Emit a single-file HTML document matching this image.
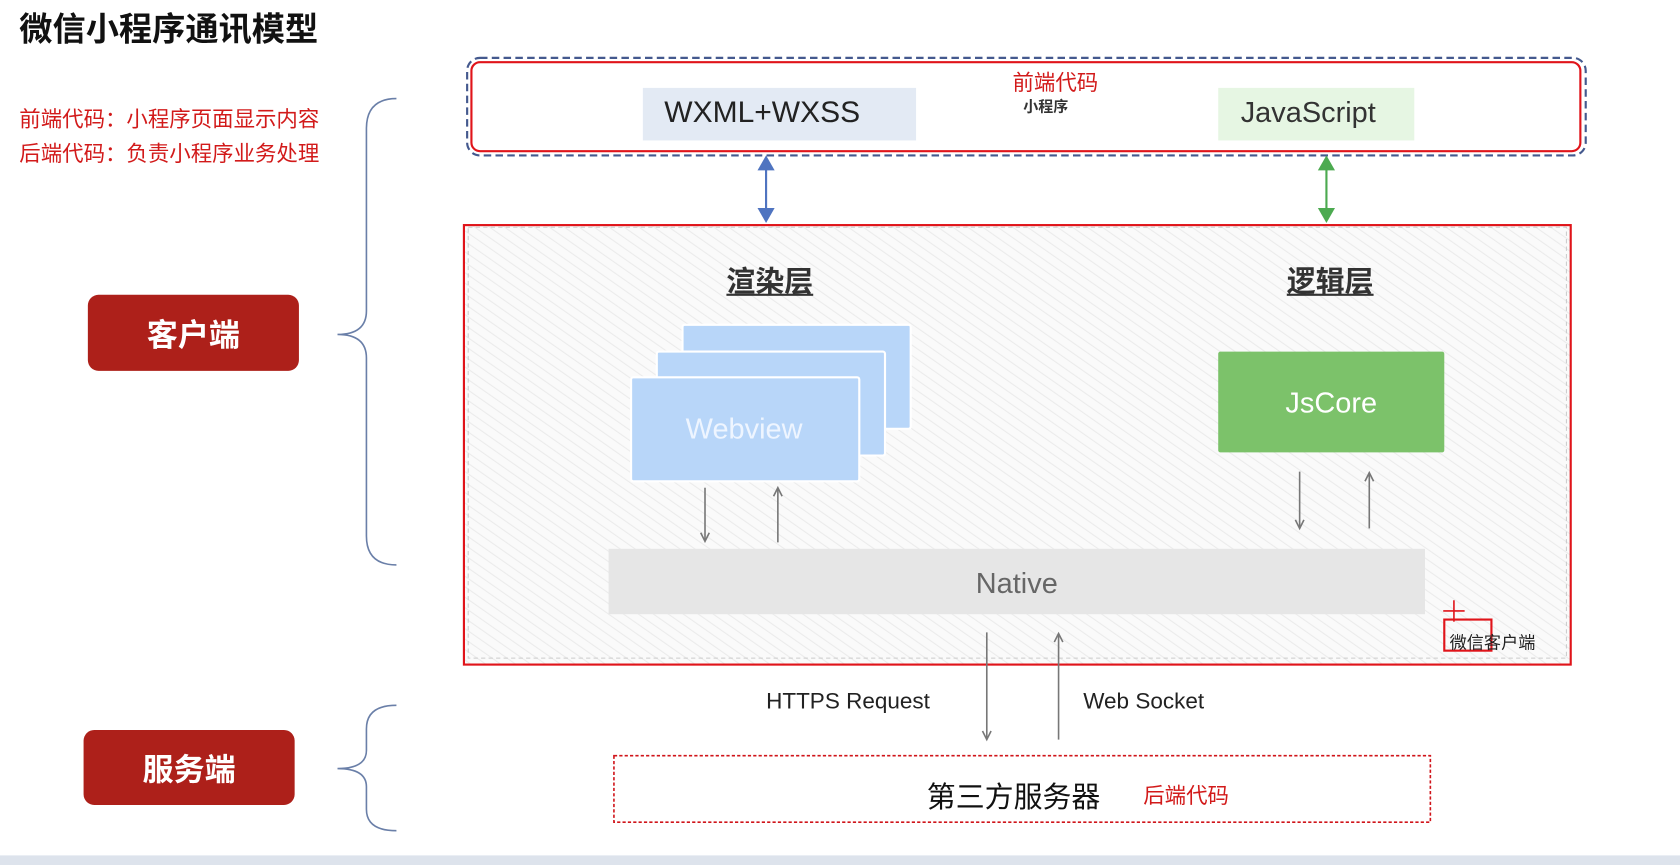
<!DOCTYPE html>
<html><head><meta charset="utf-8"><style>
html,body{margin:0;padding:0;width:1680px;height:865px;overflow:hidden;background:#fff}
#s{position:absolute;left:0;top:0;width:1568px;height:807px;transform:scale(1.07143,1.0719);transform-origin:0 0;font-family:"Liberation Sans","Noto Sans CJK SC",sans-serif}
.a{position:absolute}
.t{position:absolute;white-space:nowrap}
.red{color:#d21a1a}
.btn{position:absolute;background:#ad201a;color:#fff;border-radius:10px;font-size:29px;font-weight:bold;display:flex;align-items:center;justify-content:center}
.wv{position:absolute;background:#b8d6f9;border:2px solid #fff;border-radius:3px}
</style></head><body><div id="s">
<div class="t" style="left:18px;top:2px;font-size:31px;font-weight:bold;color:#111">微信小程序通讯模型</div>
<div class="t red" style="left:18px;top:95px;font-size:20px">前端代码：小程序页面显示内容</div>
<div class="t red" style="left:18px;top:127px;font-size:20px">后端代码：负责小程序业务处理</div>

<svg class="a" style="left:0;top:0" width="1568" height="807">
<defs>
<pattern id="h" width="8" height="8" patternUnits="userSpaceOnUse" patternTransform="rotate(-55)"><rect width="8" height="8" fill="#fafafa"/><line x1="0" y1="0" x2="0" y2="8" stroke="#ebebeb" stroke-width="2"/></pattern>
</defs>
<path d="M370 92 Q342 92 342 120 L342 290 Q342 312 315 312 Q342 312 342 334 L342 500 Q342 527 370 527" fill="none" stroke="#6a7fa8" stroke-width="1.5"/>
<path d="M370 658 Q342 658 342 680 L342 700 Q342 717 315 717 Q342 717 342 734 L342 755 Q342 775 370 775" fill="none" stroke="#6a7fa8" stroke-width="1.5"/>
<rect x="436" y="54" width="1044" height="91" rx="12" fill="none" stroke="#44598e" stroke-width="2" stroke-dasharray="7,4"/>
<rect x="440" y="58" width="1035" height="83" rx="8" fill="#fff" stroke="#e0141a" stroke-width="2"/>
<rect x="600" y="82" width="255" height="49" fill="#e3eaf4"/>
<rect x="1137" y="82" width="183" height="49" fill="#e6f6e3"/>
<line x1="715" y1="155" x2="715" y2="198" stroke="#4f74c0" stroke-width="2"/>
<polygon points="715,145 707,159 723,159" fill="#4f74c0"/><polygon points="715,208 707,194 723,194" fill="#4f74c0"/>
<line x1="1238" y1="155" x2="1238" y2="198" stroke="#4caa50" stroke-width="2"/>
<polygon points="1238,145 1230,159 1246,159" fill="#4caa50"/><polygon points="1238,208 1230,194 1246,194" fill="#4caa50"/>
<rect x="433" y="210" width="1033" height="410" fill="url(#h)" stroke="#e0141a" stroke-width="2"/>
<rect x="437" y="212" width="1025" height="402" fill="none" stroke="#ccc" stroke-width="1" stroke-dasharray="4,3"/>
<rect x="1137" y="328" width="211" height="94" rx="2" fill="#7cc26a"/>
<rect x="568" y="512" width="762" height="61" fill="#e6e6e6"/>
<g stroke="#777" stroke-width="1.5" fill="none">
<line x1="658" y1="455" x2="658" y2="504"/><path d="M654 497 L658 505 L662 497"/>
<line x1="726" y1="506" x2="726" y2="456"/><path d="M722 463 L726 455 L730 463"/>
<line x1="1213" y1="440" x2="1213" y2="492"/><path d="M1209 485 L1213 493 L1217 485"/>
<line x1="1278" y1="493" x2="1278" y2="442"/><path d="M1274 449 L1278 441 L1282 449"/>
<line x1="921" y1="590" x2="921" y2="689"/><path d="M917 682 L921 690 L925 682"/>
<line x1="988" y1="690" x2="988" y2="592"/><path d="M984 599 L988 591 L992 599"/>
</g>
<rect x="1348" y="578" width="44" height="29" fill="none" stroke="#e0141a" stroke-width="2"/>
<g stroke="#e0141a" stroke-width="1.5"><line x1="1357" y1="560" x2="1357" y2="580"/><line x1="1347" y1="570" x2="1367" y2="570"/></g>
<rect x="573" y="705" width="762" height="62" fill="#fff" stroke="#d0141a" stroke-width="1.5" stroke-dasharray="3,2"/>
<rect x="0" y="798" width="1568" height="9" fill="#dde3ec"/>
</svg>
<div class="t red" style="left:945px;top:61px;font-size:20px">前端代码</div>
<div class="t" style="left:955px;top:89px;font-size:14px;font-weight:bold;color:#333">小程序</div>
<div class="t" style="left:620px;top:89px;font-size:28px;color:#222">WXML+WXSS</div>
<div class="t" style="left:1158px;top:90px;font-size:27px;color:#333">JavaScript</div>
<div class="btn" style="left:82px;top:275px;width:197px;height:71px">客户端</div>
<div class="btn" style="left:78px;top:681px;width:197px;height:70px">服务端</div>
<div class="t" style="left:678px;top:241px;font-size:27px;font-weight:bold;color:#333;text-decoration:underline">渲染层</div>
<div class="t" style="left:1201px;top:241px;font-size:27px;font-weight:bold;color:#333;text-decoration:underline">逻辑层</div>
<div class="wv" style="left:636px;top:302px;width:211px;height:95px"></div>
<div class="wv" style="left:612px;top:327px;width:211px;height:95px"></div>
<div class="wv" style="left:588px;top:351px;width:211px;height:95px"></div>
<div class="t" style="left:588px;top:385px;width:213px;text-align:center;font-size:27px;color:#eef5ff">Webview</div>
<div class="t" style="left:1137px;top:361px;width:211px;text-align:center;font-size:27px;color:#fff">JsCore</div>
<div class="t" style="left:568px;top:529px;width:762px;text-align:center;font-size:27px;color:#666">Native</div>
<div class="t" style="left:1353px;top:586px;font-size:16px;color:#222">微信客户端</div>
<div class="t" style="left:715px;top:643px;font-size:21px;color:#222">HTTPS Request</div>
<div class="t" style="left:1011px;top:643px;font-size:21px;color:#222">Web Socket</div>
<div class="t" style="left:865px;top:722px;font-size:27px;color:#111">第三方服务器</div>
<div class="t red" style="left:1067px;top:726px;font-size:20px">后端代码</div>
</div></body></html>
